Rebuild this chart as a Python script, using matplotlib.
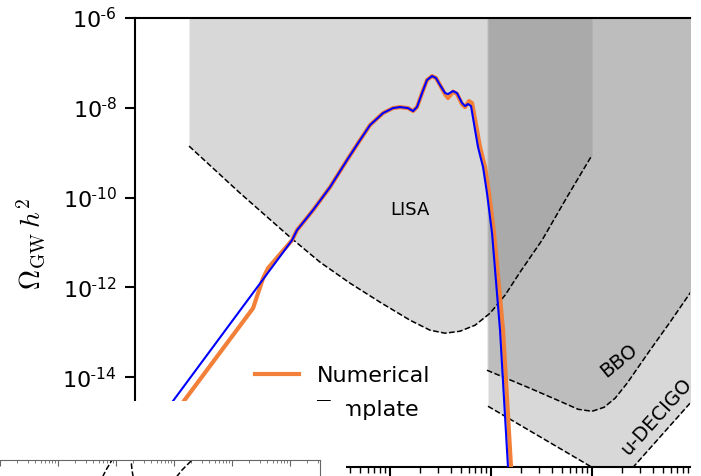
import numpy as np
import matplotlib
matplotlib.use("Agg")
import matplotlib.pyplot as plt
from matplotlib.ticker import LogLocator, NullFormatter, NullLocator, FuncFormatter
from matplotlib.patches import Rectangle

plt.rcParams['mathtext.fontset'] = 'cm'

# spectra, stored as log10(f / Hz) and log10(Omega h^2)
num_logf = [-5.30, -5.050, -4.356, -4.257, -4.208, -4.089, -3.970, -3.921, -3.762, -3.594,
            -3.426, -3.297, -3.198, -3.069, -2.970, -2.901, -2.822, -2.772, -2.733, -2.683,
            -2.634, -2.584, -2.545, -2.505, -2.455, -2.426, -2.376, -2.337, -2.287, -2.257,
            -2.218, -2.188, -2.139, -2.109, -2.059, -2.020, -1.970, -1.881, -1.802, -1.772]
num_logo = [-15.10, -14.558, -12.463, -11.795, -11.572, -11.260, -10.948, -10.725, -10.279, -9.766,
            -9.165, -8.719, -8.385, -8.117, -8.006, -7.984, -8.006, -8.073, -7.984, -7.672,
            -7.382, -7.293, -7.337, -7.493, -7.700, -7.783, -7.640, -7.690, -7.920, -7.984,
            -7.850, -7.894, -8.496, -8.875, -9.321, -9.900, -10.792, -12.953, -16.007, -17.6]
tmp_logf = [-5.30, -5.158, -3.970, -3.921, -3.762, -3.594, -3.426, -3.297, -3.198, -3.069,
            -2.970, -2.901, -2.822, -2.772, -2.733, -2.683, -2.634, -2.584, -2.545, -2.505,
            -2.455, -2.426, -2.376, -2.337, -2.287, -2.257, -2.228, -2.198, -2.158, -2.129,
            -2.079, -2.040, -1.990, -1.911, -1.832, -1.80]
tmp_logo = [-14.88, -14.558, -10.948, -10.725, -10.279, -9.766, -9.165, -8.719, -8.385, -8.117,
            -8.006, -7.984, -8.006, -8.073, -7.984, -7.672, -7.382, -7.293, -7.337, -7.493,
            -7.672, -7.694, -7.627, -7.672, -7.894, -7.961, -7.917, -7.961, -8.496, -8.875,
            -9.321, -9.900, -10.792, -12.953, -16.007, -17.6]

# sensitivity curves
lisa_logf = [-4.990, -4.485, -3.990, -3.693, -3.396, -3.099, -2.802, -2.604, -2.455, -2.307,
             -2.158, -2.010, -1.861, -1.713, -1.495, -1.248, -1.0]
lisa_logo = [-8.853, -9.900, -10.881, -11.438, -11.906, -12.329, -12.731, -12.953, -13.020,
             -12.976, -12.842, -12.575, -12.173, -11.661, -10.948, -9.989, -9.053]
bbo_logf = [-2.040, -1.614, -1.317, -1.139, -1.0, -0.881, -0.772, -0.653, -0.426, -0.228,
            -0.030, 0.168]
bbo_logo = [-13.845, -14.246, -14.536, -14.714, -14.759, -14.670, -14.469, -14.135, -13.399,
            -12.775, -12.129, -11.48]
dec_logf = [-2.030, -1.0, -0.85, -0.75, -0.594, -0.030, 0.2]
dec_logo = [-14.647, -16.007, -16.25, -16.25, -16.007, -14.580, -13.9]

# curves of the panel below (only its top shows)
low_a_logf = [0.724, 0.828, 0.931, 1.034]
low_a_y = [0.607, 0.821, 1.0, 1.143]
low_b_logf = [1.310, 1.276, 1.259, 1.259]
low_b_y = [0.607, 0.821, 1.0, 1.179]
low_c_logf = [2.000, 2.138, 2.276, 2.414]
low_c_y = [0.643, 0.821, 0.964, 1.071]

W, H = 701, 476
fig = plt.figure(figsize=(W / 100, H / 100), dpi=100)
ax = fig.add_axes([135 / W, 9 / H, 555 / W, 449 / H])

grey = '#7f7f7f'
top = 1e-6
for lf, lo in [(lisa_logf, lisa_logo), (bbo_logf, bbo_logo), (dec_logf, dec_logo)]:
    f = 10 ** np.array(lf)
    o = 10 ** np.array(lo)
    ax.fill_between(f, o, top, color=grey, alpha=0.3, lw=0, zorder=1)
    ax.plot(f, o, ls='--', color='k', lw=1.1, zorder=2)

ax.plot(10 ** np.array(num_logf), 10 ** np.array(num_logo), color='#f28038', lw=3,
        label='Numerical', zorder=3)
ax.plot(10 ** np.array(tmp_logf), 10 ** np.array(tmp_logo), color='b', lw=1.5,
        label='Template', zorder=4)

ax.text(10 ** -2.802, 10 ** -10.28, 'LISA', fontsize=13, ha='center', va='center')
ax.text(10 ** -0.733, 10 ** -13.62, 'BBO', fontsize=14, ha='center', va='center', rotation=39)
ax.text(10 ** -0.366, 10 ** -14.87, 'u-DECIGO', fontsize=14, ha='center', va='center', rotation=48)

ax.set_xscale('log')
ax.set_yscale('log')
ax.set_xlim(10 ** -5.525, 10 ** -0.03)
ax.set_ylim(1e-16, 1e-6)
ax.set_yticks([10.0 ** k for k in range(-14, -5, 2)])
ax.yaxis.set_major_formatter(FuncFormatter(
    lambda v, p: r'$\mathdefault{10^{\text{-}%d}}$' % round(-np.log10(v))))
ax.yaxis.set_minor_locator(NullLocator())
ax.xaxis.set_major_locator(LogLocator(base=10, numticks=20))
ax.xaxis.set_minor_locator(LogLocator(base=10, subs=np.arange(2, 10), numticks=20))
ax.xaxis.set_minor_formatter(NullFormatter())
ax.tick_params(axis='y', which='major', labelsize=16, length=7, width=1.5, pad=6)
ax.tick_params(axis='x', which='major', length=8, width=1.5, labelbottom=False)
ax.tick_params(axis='x', which='minor', length=4, width=1)
for s in ['left', 'top', 'bottom']:
    ax.spines[s].set_linewidth(1.5)
ax.spines['right'].set_visible(False)

ax.set_ylabel(r'$\Omega_{\rm GW}\,h^2$', fontsize=20)
ax.yaxis.set_label_coords(-0.158, 0.497)

ax.legend(loc='upper left', bbox_to_anchor=(0.18, 0.27), frameon=False, fontsize=16,
          labelspacing=0.65)

# white band over the lower left corner
fig.add_artist(Rectangle((0, 0), 346 / W, 75 / H, transform=fig.transFigure,
                         facecolor='white', edgecolor='none', zorder=5))

# top of the next panel
ax2 = fig.add_axes([-4 / W, -40 / H, 324 / W, 56 / H], zorder=6)
ax2.set_xscale('log')
for lf, yy in [(low_a_logf, low_a_y), (low_b_logf, low_b_y), (low_c_logf, low_c_y)]:
    ax2.plot(10 ** np.array(lf), yy, ls='--', color='k', lw=1.1)
ax2.set_xlim(10 ** -1.069, 10 ** 4.517)
ax2.set_ylim(0, 1)
ax2.xaxis.set_major_locator(LogLocator(base=10, numticks=20))
ax2.xaxis.set_minor_locator(LogLocator(base=10, subs=np.arange(2, 10), numticks=20))
ax2.tick_params(axis='x', which='both', top=True, bottom=False, direction='in',
                labeltop=False, labelbottom=False, colors='#666666')
ax2.tick_params(axis='x', which='major', length=4)
ax2.tick_params(axis='x', which='minor', length=2.5)
ax2.set_yticks([])
for s in ax2.spines.values():
    s.set_color('#666666')
    s.set_linewidth(0.8)

fig.savefig('out.png', dpi=100)
